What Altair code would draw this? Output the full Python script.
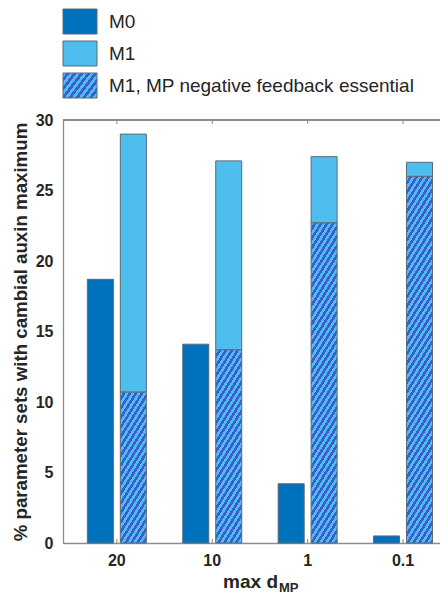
import altair as alt
import pandas as pd
import math

# ---- data ----
categories = ["20", "10", "1", "0.1"]
m0_values = [18.7, 14.1, 4.2, 0.5]
m1_total = [29.0, 27.1, 27.4, 27.0]
m1_essential = [10.7, 13.7, 22.7, 26.0]
legend_labels = ["M0", "M1", "M1, MP negative feedback essential"]
y_ticks = [0, 5, 10, 15, 20, 25, 30]

# ---- style ----
C_M0 = "#0072BD"
C_M1 = "#4DBEEE"
C_HATCH = "#3D5CD0"
C_EDGE = "#5b6a76"
C_TEXT = "#262626"
C_FRAME = "#8c8c8c"
FONT = "Liberation Sans"
W, H = 377, 423
Y_MAX = 30
PAD = {"left": 55, "top": 112, "right": 0, "bottom": 51}

rows = []
for c, v in zip(categories, m0_values):
    rows.append({"cat": c, "grp": "M0", "y0": 0.0, "y1": v, "part": "m0"})
for c, e, t in zip(categories, m1_essential, m1_total):
    rows.append({"cat": c, "grp": "M1", "y0": 0.0, "y1": e, "part": "ess"})
    rows.append({"cat": c, "grp": "M1", "y0": e, "y1": t, "part": "top"})
df = pd.DataFrame(rows)

x_scale = alt.Scale(paddingInner=0.3816, paddingOuter=0.167, align=0.765)
x_enc = alt.X("cat:N", sort=categories, scale=x_scale,
              axis=alt.Axis(title=None, labelAngle=0, labelFontSize=16, labelFontWeight="bold",
                            labelColor=C_TEXT, labelFont=FONT, ticks=False, domain=True,
                            domainColor=C_FRAME, domainWidth=1.3, labelPadding=9))
xo_enc = alt.XOffset("grp:N", scale=alt.Scale(paddingInner=0.21, paddingOuter=0))
y_enc = alt.Y("y1:Q", scale=alt.Scale(domain=[0, Y_MAX], nice=False),
              axis=alt.Axis(values=y_ticks, title="% parameter sets with cambial auxin maximum",
                            titleFontSize=18.7, titleFontWeight="bold", titleColor=C_TEXT,
                            titleFont=FONT, titlePadding=5,
                            labelFontSize=16, labelFontWeight="bold", labelColor=C_TEXT,
                            labelFont=FONT, labelPadding=10, ticks=False, domain=True,
                            domainColor=C_FRAME, domainWidth=1.3, grid=False))


def hatch(w, h, tan_t=1.6, period=9.5, frac=0.5):
    """diagonal stripe gradient in bounding-box units"""
    theta = math.atan(tan_t)
    s, c = math.sin(theta), math.cos(theta)
    a0, b0 = s / h, c / w
    lam = (a0 + b0) / (a0 * a0 + b0 * b0)
    n = (w * tan_t + h) / period
    stops = []
    k = 0
    while k < n:
        o0 = k / n
        o1 = min((k + 1 - frac) / n, 1.0)
        o2 = min((k + 1) / n, 1.0)
        stops += [{"offset": o0, "color": C_M1}, {"offset": o1, "color": C_M1}]
        if o1 < 1.0:
            stops += [{"offset": o1, "color": C_HATCH}, {"offset": o2, "color": C_HATCH}]
        k += 1
    return {"gradient": "linear", "x1": 0, "y1": 0, "x2": lam * a0, "y2": lam * b0,
            "stops": stops}


base = alt.Chart(df)
bar_w = 26.0

m0_layer = base.transform_filter(alt.datum.part == "m0").mark_bar(
    fill=C_M0, stroke=C_EDGE, strokeWidth=1
).encode(x=x_enc, xOffset=xo_enc, y=y_enc, y2="y0:Q")

top_layer = base.transform_filter(alt.datum.part == "top").mark_bar(
    fill=C_M1, stroke=C_EDGE, strokeWidth=1
).encode(x=x_enc, xOffset=xo_enc, y=y_enc, y2="y0:Q")

hatch_layers = []
for c, e in zip(categories, m1_essential):
    hpx = e * H / Y_MAX
    hatch_layers.append(
        base.transform_filter((alt.datum.part == "ess") & (alt.datum.cat == c)).mark_bar(
            fill=hatch(bar_w, hpx), stroke=C_EDGE, strokeWidth=1
        ).encode(x=x_enc, xOffset=xo_enc, y=y_enc, y2="y0:Q")
    )

tick_df = pd.DataFrame({"cat": categories})
ticks_bottom = alt.Chart(tick_df).mark_rule(color=C_FRAME, strokeWidth=1).encode(
    x=alt.X("cat:N", sort=categories), y=alt.value(H), y2=alt.value(H - 4))
ticks_top = alt.Chart(tick_df).mark_rule(color=C_FRAME, strokeWidth=1).encode(
    x=alt.X("cat:N", sort=categories), y=alt.value(0), y2=alt.value(4))
top_frame = alt.Chart(tick_df).mark_rule(color=C_FRAME, strokeWidth=1.3).encode(
    x=alt.value(0), x2=alt.value(W), y=alt.value(0))

# x title with subscript
xt_main = alt.Chart(pd.DataFrame({"t": ["max d"]})).mark_text(
    align="right", baseline="middle", fontSize=19, fontWeight="bold", color=C_TEXT, font=FONT
).encode(text="t:N", x=alt.value(215), y=alt.value(462))
xt_sub = alt.Chart(pd.DataFrame({"t": ["MP"]})).mark_text(
    align="left", baseline="middle", fontSize=13, fontWeight="bold", color=C_TEXT, font=FONT
).encode(text="t:N", x=alt.value(216), y=alt.value(468))

# legend (manual)
sw_y = [-111, -79, -47]
leg_layers = []
fills = [C_M0, C_M1, hatch(34, 25, tan_t=1.3, period=9.0)]
for i, (lab, f) in enumerate(zip(legend_labels, fills)):
    leg_layers.append(
        alt.Chart(pd.DataFrame({"t": [lab]})).mark_rect(fill=f, stroke=C_EDGE, strokeWidth=1).encode(
            x=alt.value(0), x2=alt.value(34), y=alt.value(sw_y[i]), y2=alt.value(sw_y[i] + 25))
    )
    leg_layers.append(
        alt.Chart(pd.DataFrame({"t": [lab]})).mark_text(
            align="left", baseline="middle", fontSize=19, color=C_TEXT, font=FONT
        ).encode(text="t:N", x=alt.value(46), y=alt.value(sw_y[i] + 12.5))
    )

chart = alt.layer(
    m0_layer, top_layer, *hatch_layers, ticks_bottom, ticks_top, top_frame,
    xt_main, xt_sub, *leg_layers
).properties(
    width=W, height=H, padding=PAD, autosize=alt.AutoSizeParams(type="none")
).configure_view(
    stroke=None
).configure(background="white")

chart.save("out.html", embed_options={"renderer": "svg", "actions": False})
